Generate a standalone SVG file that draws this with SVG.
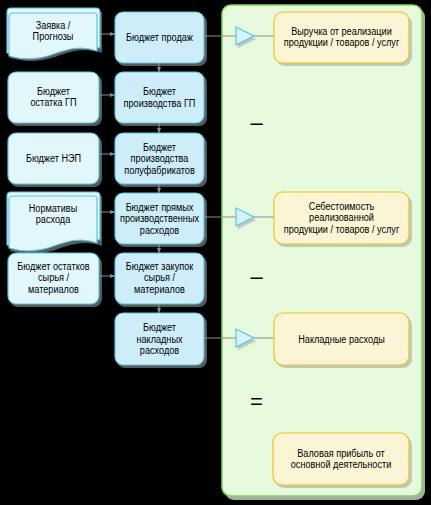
<svg xmlns="http://www.w3.org/2000/svg" width="431" height="505" viewBox="0 0 431 505">
<defs>
<style>
.t{font-family:"Liberation Sans",Arial,sans-serif;font-size:11px;fill:#000;text-anchor:middle}
.lb{fill:#e2f7fc;stroke:#5ec3e0;stroke-width:1.2}
.mb{fill:#cdedf8;stroke:#5ec3e0;stroke-width:1.2}
.yb{fill:#fbf5d6;stroke:#f0c419;stroke-width:1.2}
.sh{fill:#9aa4a8;opacity:0.55}
.cn{stroke:#8c8c8c;stroke-width:1;fill:none}
.tri{fill:#d4f3fb;stroke:#5ec3e0;stroke-width:1.2}
.sg{font-family:"Liberation Sans",sans-serif;font-size:22px;fill:#000;text-anchor:middle}
</style>
<marker id="ah" markerWidth="5" markerHeight="4" refX="5" refY="2" orient="auto" markerUnits="userSpaceOnUse">
<path d="M0,0 L5,2 L0,4 Z" fill="#8c8c8c"/>
</marker>
</defs>
<rect width="431" height="505" fill="#000"/>

<g id="container">
<rect x="225" y="8" width="200" height="492" rx="9" fill="#cfd8d0" opacity="0.8"/>
<rect x="222" y="5" width="200" height="491" rx="9" fill="#e6f9dd" stroke="#7fd75c" stroke-width="1.5"/>
</g>

<g id="connectors">
<line class="cn" x1="100" y1="34" x2="115" y2="34" marker-end="url(#ah)"/>
<line class="cn" x1="100" y1="95" x2="115" y2="95" marker-end="url(#ah)"/>
<line class="cn" x1="100" y1="154" x2="115" y2="154" marker-end="url(#ah)"/>
<line class="cn" x1="100" y1="212" x2="115" y2="212" marker-end="url(#ah)"/>
<line class="cn" x1="100" y1="276" x2="115" y2="276" marker-end="url(#ah)"/>
<line class="cn" x1="159" y1="63" x2="159" y2="72" marker-end="url(#ah)"/>
<line class="cn" x1="159" y1="123" x2="159" y2="133" marker-end="url(#ah)"/>
<line class="cn" x1="159" y1="184" x2="159" y2="193" marker-end="url(#ah)"/>
<line class="cn" x1="159" y1="244" x2="159" y2="253" marker-end="url(#ah)"/>
<line class="cn" x1="159" y1="304" x2="159" y2="313" marker-end="url(#ah)"/>
<line class="cn" x1="204" y1="36" x2="274" y2="36"/>
<line class="cn" x1="204" y1="217" x2="274" y2="217"/>
<line class="cn" x1="204" y1="338" x2="274" y2="338"/>
<polygon class="sh" points="238,30 256,39 238,48"/>
<polygon class="tri" points="236,27 254,36 236,45"/>
<polygon class="sh" points="238,211 256,220 238,229"/>
<polygon class="tri" points="236,208 254,217 236,226"/>
<polygon class="sh" points="238,332 256,341 238,350"/>
<polygon class="tri" points="236,329 254,338 236,347"/>
</g>

<g id="n-zayavka">
<path class="sh" d="M10,12 H102 V53 C85,47 72,51 55,57 C37,63 22,61 10,58 Z"/>
<path class="lb" d="M7,12 Q7,8 11,8 H96 Q100,8 100,12 V48 C83,42 70,46 53,52 C35,58 20,56 7,53 Z"/>
<path class="lb" d="M9,17 Q9,13 13,13 H94 Q97,13 97,17 V51 C80,45 68,49 51,55 C33,61 19,59 9,56 Z"/>
<g transform="translate(53,0) scale(0.83,1)">
<text class="t" x="0" y="29">Заявка /</text>
<text class="t" x="0" y="40.5">Прогнозы</text>
</g>
</g>

<g id="n-ostatok-gp">
<rect class="sh" x="10" y="75" width="92" height="51" rx="8"/>
<rect class="lb" x="8" y="72" width="91" height="51" rx="8"/>
<g transform="translate(53.5,0) scale(0.83,1)">
<text class="t" x="0" y="95">Бюджет</text>
<text class="t" x="0" y="106.5">остатка ГП</text>
</g>
</g>

<g id="n-nep">
<rect class="sh" x="10" y="136" width="92" height="51" rx="8"/>
<rect class="lb" x="8" y="133" width="91" height="51" rx="8"/>
<g transform="translate(53.5,0) scale(0.83,1)">
<text class="t" x="0" y="162.5">Бюджет НЭП</text>
</g>
</g>

<g id="n-normativy">
<path class="sh" d="M10,196 H102 V246 C85,240 72,244 55,250 C37,256 22,254 10,251 Z"/>
<path class="lb" d="M7,196 Q7,192 11,192 H96 Q100,192 100,196 V240 C83,234 70,238 53,244 C35,250 20,248 7,245 Z"/>
<path class="lb" d="M9,200 Q9,196 13,196 H94 Q97,196 97,200 V243 C80,237 68,241 51,247 C33,253 19,251 9,248 Z"/>
<g transform="translate(53,0) scale(0.83,1)">
<text class="t" x="0" y="212">Нормативы</text>
<text class="t" x="0" y="223.5">расхода</text>
</g>
</g>

<g id="n-ostatki-syrya">
<rect class="sh" x="10" y="256" width="92" height="51" rx="8"/>
<rect class="lb" x="8" y="253" width="91" height="51" rx="8"/>
<g transform="translate(53.5,0) scale(0.83,1)">
<text class="t" x="0" y="270">Бюджет остатков</text>
<text class="t" x="0" y="281.5">сырья /</text>
<text class="t" x="0" y="293">материалов</text>
</g>
</g>

<g id="n-prodazh">
<rect class="sh" x="117" y="15" width="90" height="51" rx="8"/>
<rect class="mb" x="115" y="12" width="89" height="51" rx="8"/>
<g transform="translate(159.5,0) scale(0.83,1)">
<text class="t" x="0" y="41.5">Бюджет продаж</text>
</g>
</g>

<g id="n-proizv-gp">
<rect class="sh" x="117" y="75" width="90" height="51" rx="8"/>
<rect class="mb" x="115" y="72" width="89" height="51" rx="8"/>
<g transform="translate(159.5,0) scale(0.83,1)">
<text class="t" x="0" y="95.5">Бюджет</text>
<text class="t" x="0" y="107">производства ГП</text>
</g>
</g>

<g id="n-polufabrikaty">
<rect class="sh" x="117" y="136" width="90" height="51" rx="8"/>
<rect class="mb" x="115" y="133" width="89" height="51" rx="8"/>
<g transform="translate(159.5,0) scale(0.83,1)">
<text class="t" x="0" y="151">Бюджет</text>
<text class="t" x="0" y="162.5">производства</text>
<text class="t" x="0" y="174">полуфабрикатов</text>
</g>
</g>

<g id="n-pryamye">
<rect class="sh" x="117" y="196" width="90" height="51" rx="8"/>
<rect class="mb" x="115" y="193" width="89" height="51" rx="8"/>
<g transform="translate(159.5,0) scale(0.83,1)">
<text class="t" x="0" y="211">Бюджет прямых</text>
<text class="t" x="0" y="222.5">производственных</text>
<text class="t" x="0" y="234">расходов</text>
</g>
</g>

<g id="n-zakupki">
<rect class="sh" x="117" y="256" width="90" height="51" rx="8"/>
<rect class="mb" x="115" y="253" width="89" height="51" rx="8"/>
<g transform="translate(159.5,0) scale(0.83,1)">
<text class="t" x="0" y="270">Бюджет закупок</text>
<text class="t" x="0" y="281.5">сырья /</text>
<text class="t" x="0" y="293">материалов</text>
</g>
</g>

<g id="n-nakladnye">
<rect class="sh" x="117" y="316" width="90" height="52" rx="8"/>
<rect class="mb" x="115" y="313" width="89" height="52" rx="8"/>
<g transform="translate(159.5,0) scale(0.83,1)">
<text class="t" x="0" y="331.5">Бюджет</text>
<text class="t" x="0" y="343">накладных</text>
<text class="t" x="0" y="354.5">расходов</text>
</g>
</g>

<g id="r-vyruchka">
<rect class="sh" x="276" y="15" width="136" height="51" rx="9" opacity="0.3"/>
<rect class="yb" x="274" y="12" width="135" height="51" rx="9"/>
<g transform="translate(341.5,0) scale(0.83,1)">
<text class="t" x="0" y="35">Выручка от реализации</text>
<text class="t" x="0" y="46.5">продукции / товаров / услуг</text>
</g>
</g>

<g id="r-sebestoimost">
<rect class="sh" x="276" y="195" width="136" height="52" rx="9" opacity="0.3"/>
<rect class="yb" x="274" y="192" width="135" height="52" rx="9"/>
<g transform="translate(341.5,0) scale(0.83,1)">
<text class="t" x="0" y="210">Себестоимость</text>
<text class="t" x="0" y="221.5">реализованной</text>
<text class="t" x="0" y="233">продукции / товаров / услуг</text>
</g>
</g>

<g id="r-nakladnye">
<rect class="sh" x="276" y="316" width="136" height="52" rx="9" opacity="0.3"/>
<rect class="yb" x="274" y="313" width="135" height="52" rx="9"/>
<g transform="translate(341.5,0) scale(0.83,1)">
<text class="t" x="0" y="343">Накладные расходы</text>
</g>
</g>

<g id="r-valovaya">
<rect class="sh" x="275" y="436" width="137" height="52" rx="9" opacity="0.3"/>
<rect class="yb" x="273" y="433" width="136" height="52" rx="9"/>
<g transform="translate(341,0) scale(0.83,1)">
<text class="t" x="0" y="457">Валовая прибыль от</text>
<text class="t" x="0" y="468.5">основной деятельности</text>
</g>
</g>

<g id="signs">
<text class="sg" x="256.5" y="130">–</text>
<text class="sg" x="256.5" y="284">–</text>
<text class="sg" x="256.5" y="409">=</text>
</g>
</svg>
